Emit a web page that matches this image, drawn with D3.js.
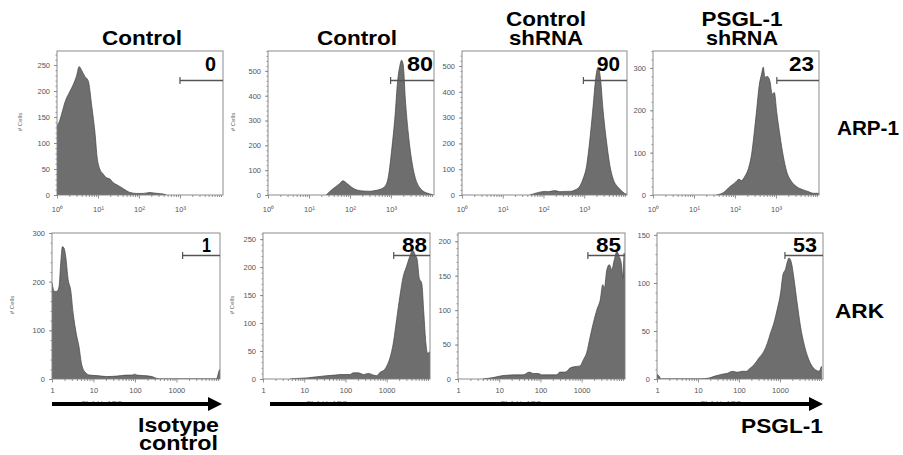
<!DOCTYPE html>
<html><head><meta charset="utf-8">
<script src="https://cdn.jsdelivr.net/npm/d3@7/dist/d3.min.js"></script>
<style>body{margin:0;background:#fff}svg{display:block}</style>
</head><body><svg id="c" width="903" height="455"></svg>
<script>
// ---------- data ----------
const panelTitles = [["Control"],["Control"],["Control","shRNA"],["PSGL-1","shRNA"],[],[],[],[]];
const rowLabels = ["ARP-1","ARK"];
const gateLabels = ["0","80","90","23","1","88","85","53"];
const gateStart = [1000, 980, 955, 1050, 1410, 1480, 1410, 1320];
const yMax = [277, 580, 558, 340, 300, 261, 212, 152];
const yTickValues = [[0,50,100,150,200,250],[0,100,200,300,400,500],[0,100,200,300,400,500],[0,100,200,300],[0,100,200,300],[0,50,100,150,200,250],[0,50,100,150,200],[0,50,100,150]];
const yMinorStep = [10,20,20,20,20,10,10,10];
const xTickValues = [1,10,100,1000];
const xTickTop = ["10\u2070","10\u00b9","10\u00b2","10\u00b3"];
const xTickBottom = ["1","10","100","1000"];
const yAxisLabel = "# Cells";
const xAxisLabel = "FL4-H::APC";
const bottomLabels = ["Isotype","control","PSGL-1"];
// histograms: [log10 fluorescence, # cells]
const hist1 = [[0,135],[0.05,140],[0.11,155],[0.2,180],[0.32,200],[0.4,213],[0.48,230],[0.54,247],[0.6,240],[0.68,228],[0.76,220],[0.85,170],[0.93,117],[0.98,72],[1.03,53],[1.13,40],[1.21,33],[1.29,31],[1.37,24],[1.5,18],[1.62,12],[1.78,5],[1.94,3],[2.1,3],[2.27,5],[2.35,4],[2.47,3],[2.59,2],[2.67,0]];
const hist2 = [[1.42,0],[1.57,23],[1.73,43],[1.83,57],[1.93,46],[2.05,30],[2.17,20],[2.33,16],[2.49,15],[2.61,18],[2.74,23],[2.86,36],[2.94,77],[3.02,185],[3.1,320],[3.16,455],[3.22,523],[3.26,543],[3.3,523],[3.35,388],[3.42,253],[3.5,145],[3.58,77],[3.7,30],[3.82,12],[3.94,5],[4.02,1]];
const hist3 = [[1.67,0],[1.83,8],[2.04,14],[2.12,13],[2.28,17],[2.4,13],[2.53,14],[2.65,14],[2.77,19],[2.89,34],[2.97,62],[3.06,114],[3.14,217],[3.22,346],[3.28,450],[3.34,495],[3.4,450],[3.46,333],[3.55,204],[3.63,114],[3.71,62],[3.83,30],[3.91,17],[3.99,6],[4.04,4]];
const hist4 = [[1.55,0],[1.72,6],[1.88,20],[2.0,29],[2.1,37],[2.16,34],[2.24,44],[2.33,63],[2.41,99],[2.46,139],[2.53,202],[2.59,258],[2.65,286],[2.69,302],[2.73,278],[2.79,280],[2.85,270],[2.91,238],[2.96,242],[3.02,194],[3.1,139],[3.18,91],[3.26,56],[3.38,32],[3.5,20],[3.67,12],[3.79,8],[3.91,4],[4.04,4]];
const hist5 = [[0,197],[0.06,180],[0.12,180],[0.17,190],[0.21,238],[0.25,272],[0.29,269],[0.33,252],[0.39,204],[0.45,183],[0.51,135],[0.59,91],[0.65,67],[0.71,32],[0.79,15],[0.91,8],[1.08,7],[1.32,5],[1.56,6],[1.8,8],[1.93,8],[1.99,10],[2.05,8],[2.21,7],[2.41,5],[2.53,1],[2.6,0],[3.95,0],[3.99,5],[4.02,15],[4.05,20]];
const hist6 = [[0.66,0],[0.82,1],[1.06,2],[1.31,4],[1.55,6],[1.75,7],[1.87,8],[2.11,8],[2.19,11],[2.31,11],[2.44,8],[2.56,10],[2.68,7],[2.76,6],[2.84,12],[2.92,15],[3.0,23],[3.08,38],[3.16,64],[3.24,106],[3.32,148],[3.4,183],[3.48,201],[3.56,219],[3.63,230],[3.69,222],[3.74,213],[3.79,180],[3.85,171],[3.9,118],[3.95,64],[3.99,46],[4.05,49]];
const hist7 = [[0.61,0],[0.85,2],[1.09,5],[1.42,6],[1.58,6],[1.73,10],[1.82,8],[1.95,8],[2.03,6],[2.23,6],[2.39,6],[2.47,10],[2.6,10],[2.72,16],[2.84,18],[2.96,19],[3.04,28],[3.12,38],[3.2,60],[3.28,81],[3.37,101],[3.45,115],[3.51,137],[3.55,132],[3.61,159],[3.67,166],[3.73,159],[3.79,173],[3.85,185],[3.91,178],[3.96,168],[4.0,147],[4.03,183],[4.05,150]];
const hist8 = [[0,5],[0.05,3],[0.1,0],[1.02,0],[1.27,1],[1.41,3],[1.59,5],[1.72,6],[1.84,8],[1.96,7],[2.08,8],[2.18,8],[2.24,10],[2.37,15],[2.49,22],[2.61,29],[2.69,37],[2.77,48],[2.85,58],[2.93,72],[3.02,91],[3.07,108],[3.14,115],[3.18,122],[3.22,126],[3.28,121],[3.34,105],[3.42,79],[3.5,55],[3.59,36],[3.67,24],[3.79,13],[3.89,9],[3.95,8],[4.01,13]];
const histograms = [hist1,hist2,hist3,hist4,hist5,hist6,hist7,hist8];

// ---------- layout ----------
const FONT = "'Liberation Sans', Arial, Helvetica, sans-serif";
const panels = [
  {x0:57, x1:223, y0:51, y1:195, row:0, tx:142, cx:216, cw:11, yl:20},
  {x0:268,x1:434, y0:51, y1:195, row:0, tx:357, cx:433, cw:26, yl:233},
  {x0:462,x1:627, y0:51, y1:195, row:0, tx:546, cx:620, cw:23, yl:null},
  {x0:653,x1:819, y0:51, y1:195, row:0, tx:742, cx:814, cw:25, yl:null},
  {x0:52, x1:220, y0:233,y1:379, row:1, tx:0,   cx:211, cw:9,  yl:12, fl:102},
  {x0:263,x1:430, y0:233,y1:379, row:1, tx:0,   cx:427, cw:25, yl:232, fl:327},
  {x0:458,x1:625, y0:233,y1:379, row:1, tx:0,   cx:621, cw:25, yl:null, fl:521},
  {x0:657,x1:823, y0:233,y1:379, row:1, tx:0,   cx:817, cw:24, yl:null, fl:721}
];
const titleWidths = [[80],[80],[80,74],[81,72]];

const svg = d3.select("#c");
const defs = svg.append("defs");
const xMax = Math.pow(10, 4.05);

panels.forEach((p, i) => {
  const g = svg.append("g");
  const x = d3.scaleLog().domain([1, xMax]).range([p.x0, p.x1]);
  const y = d3.scaleLinear().domain([0, yMax[i]]).range([p.y1, p.y0]);

  defs.append("clipPath").attr("id", "clip" + i)
    .append("rect").attr("x", p.x0).attr("y", p.y0).attr("width", p.x1 - p.x0).attr("height", p.y1 - p.y0);

  // histogram
  const area = d3.area()
    .x(d => x(Math.pow(10, d[0])))
    .y0(y(0)).y1(d => y(d[1]))
    .curve(d3.curveMonotoneX);
  g.append("path").datum(histograms[i])
    .attr("clip-path", "url(#clip" + i + ")")
    .attr("d", area)
    .attr("fill", "#6e6e6e").attr("stroke", "#444").attr("stroke-width", 0.7);

  // x axis minor ticks
  const minor = [];
  [1,10,100,1000].forEach(dcd => { for (let k = 2; k <= 9; k++) if (dcd*k < xMax) minor.push(dcd*k); });
  minor.push(10000);
  const xMinor = g.append("g").attr("transform", `translate(0,${p.y1})`)
    .call(d3.axisBottom(x).tickValues(minor).tickSize(2).tickFormat(""));
  // x axis major ticks
  const labs = p.row === 0 ? xTickTop : xTickBottom;
  const xMajor = g.append("g").attr("transform", `translate(0,${p.y1})`)
    .call(d3.axisBottom(x).tickValues(xTickValues).tickSize(3.5)
      .tickPadding(p.row === 0 ? 8 : 5)
      .tickFormat((d, j) => labs[j]));
  // y axis
  const yMinorVals = d3.range(0, yMax[i] + 0.01, yMinorStep[i]);
  const yMin = g.append("g").attr("transform", `translate(${p.x0},0)`)
    .call(d3.axisLeft(y).tickValues(yMinorVals).tickSize(1.5).tickFormat(""));
  const yMaj = g.append("g").attr("transform", `translate(${p.x0},0)`)
    .call(d3.axisLeft(y).tickValues(yTickValues[i]).tickSize(3).tickPadding(4));
  [xMinor, xMajor, yMin, yMaj].forEach(a => {
    a.select(".domain").remove();
    a.selectAll("line").attr("stroke", "#777").attr("stroke-width", 0.8);
    a.selectAll("text").attr("fill", "#555").style("font-size", "7.5px").style("font-family", FONT);
  });

  // frame
  g.append("rect").attr("x", p.x0).attr("y", p.y0).attr("width", p.x1 - p.x0).attr("height", p.y1 - p.y0)
    .attr("fill", "none").attr("stroke", "#8c8c8c").attr("stroke-width", 1);

  // gate
  const gy = p.row === 0 ? 80.5 : 255.5;
  const gx = x(gateStart[i]);
  g.append("line").attr("x1", gx).attr("x2", p.x1).attr("y1", gy).attr("y2", gy)
    .attr("stroke", "#555").attr("stroke-width", 1.4);
  g.append("line").attr("x1", gx).attr("x2", gx).attr("y1", gy - 3.5).attr("y2", gy + 3.5)
    .attr("stroke", "#555").attr("stroke-width", 1.2);
  g.append("text").attr("x", p.cx).attr("y", p.row === 0 ? 71 : 252)
    .attr("text-anchor", "end").attr("textLength", p.cw).attr("lengthAdjust", "spacingAndGlyphs")
    .style("font-family", FONT).style("font-weight", "bold").style("font-size", "20px")
    .text(gateLabels[i]);

  // title
  const t = panelTitles[i];
  t.forEach((line, k) => {
    const by = t.length === 1 ? 45 : (k === 0 ? 26 : 45);
    g.append("text").attr("x", p.tx).attr("y", by).attr("text-anchor", "middle")
      .attr("textLength", titleWidths[i][k]).attr("lengthAdjust", "spacingAndGlyphs")
      .style("font-family", FONT).style("font-weight", "bold").style("font-size", "20.5px")
      .text(line);
  });

  // y label
  if (p.yl !== null) {
    const cy = (p.y0 + p.y1) / 2 - 1;
    g.append("text").attr("transform", `translate(${p.yl + 2},${cy}) rotate(-90)`)
      .attr("text-anchor", "middle").attr("fill", "#666")
      .style("font-family", FONT).style("font-size", "6px").text(yAxisLabel);
  }
  // x label (mostly hidden behind arrow)
  if (p.fl) {
    g.append("text").attr("x", p.fl).attr("y", 406).attr("text-anchor", "middle").attr("fill", "#777")
      .style("font-family", FONT).style("font-size", "7.5px").text(xAxisLabel);
  }
});

// row labels
svg.append("text").attr("x", 837).attr("y", 135).attr("textLength", 62).attr("lengthAdjust", "spacingAndGlyphs")
  .style("font-family", FONT).style("font-weight", "bold").style("font-size", "20px").text(rowLabels[0]);
svg.append("text").attr("x", 835).attr("y", 318).attr("textLength", 49).attr("lengthAdjust", "spacingAndGlyphs")
  .style("font-family", FONT).style("font-weight", "bold").style("font-size", "21px").text(rowLabels[1]);

// arrows
function arrow(x0, x1, yy) {
  svg.append("line").attr("x1", x0).attr("x2", x1 - 10).attr("y1", yy).attr("y2", yy)
    .attr("stroke", "#000").attr("stroke-width", 4);
  svg.append("path").attr("d", `M${x1 - 14},${yy - 7} L${x1},${yy} L${x1 - 14},${yy + 7} Z`).attr("fill", "#000");
}
arrow(52, 222, 404);
arrow(270, 823, 404);

// bottom captions
svg.append("text").attr("x", 219).attr("y", 432).attr("text-anchor", "end")
  .attr("textLength", 81).attr("lengthAdjust", "spacingAndGlyphs")
  .style("font-family", FONT).style("font-weight", "bold").style("font-size", "21px").text(bottomLabels[0]);
svg.append("text").attr("x", 218).attr("y", 450).attr("text-anchor", "end")
  .attr("textLength", 79).attr("lengthAdjust", "spacingAndGlyphs")
  .style("font-family", FONT).style("font-weight", "bold").style("font-size", "21px").text(bottomLabels[1]);
svg.append("text").attr("x", 823).attr("y", 433).attr("text-anchor", "end")
  .attr("textLength", 82).attr("lengthAdjust", "spacingAndGlyphs")
  .style("font-family", FONT).style("font-weight", "bold").style("font-size", "21px").text(bottomLabels[2]);
</script></body></html>
